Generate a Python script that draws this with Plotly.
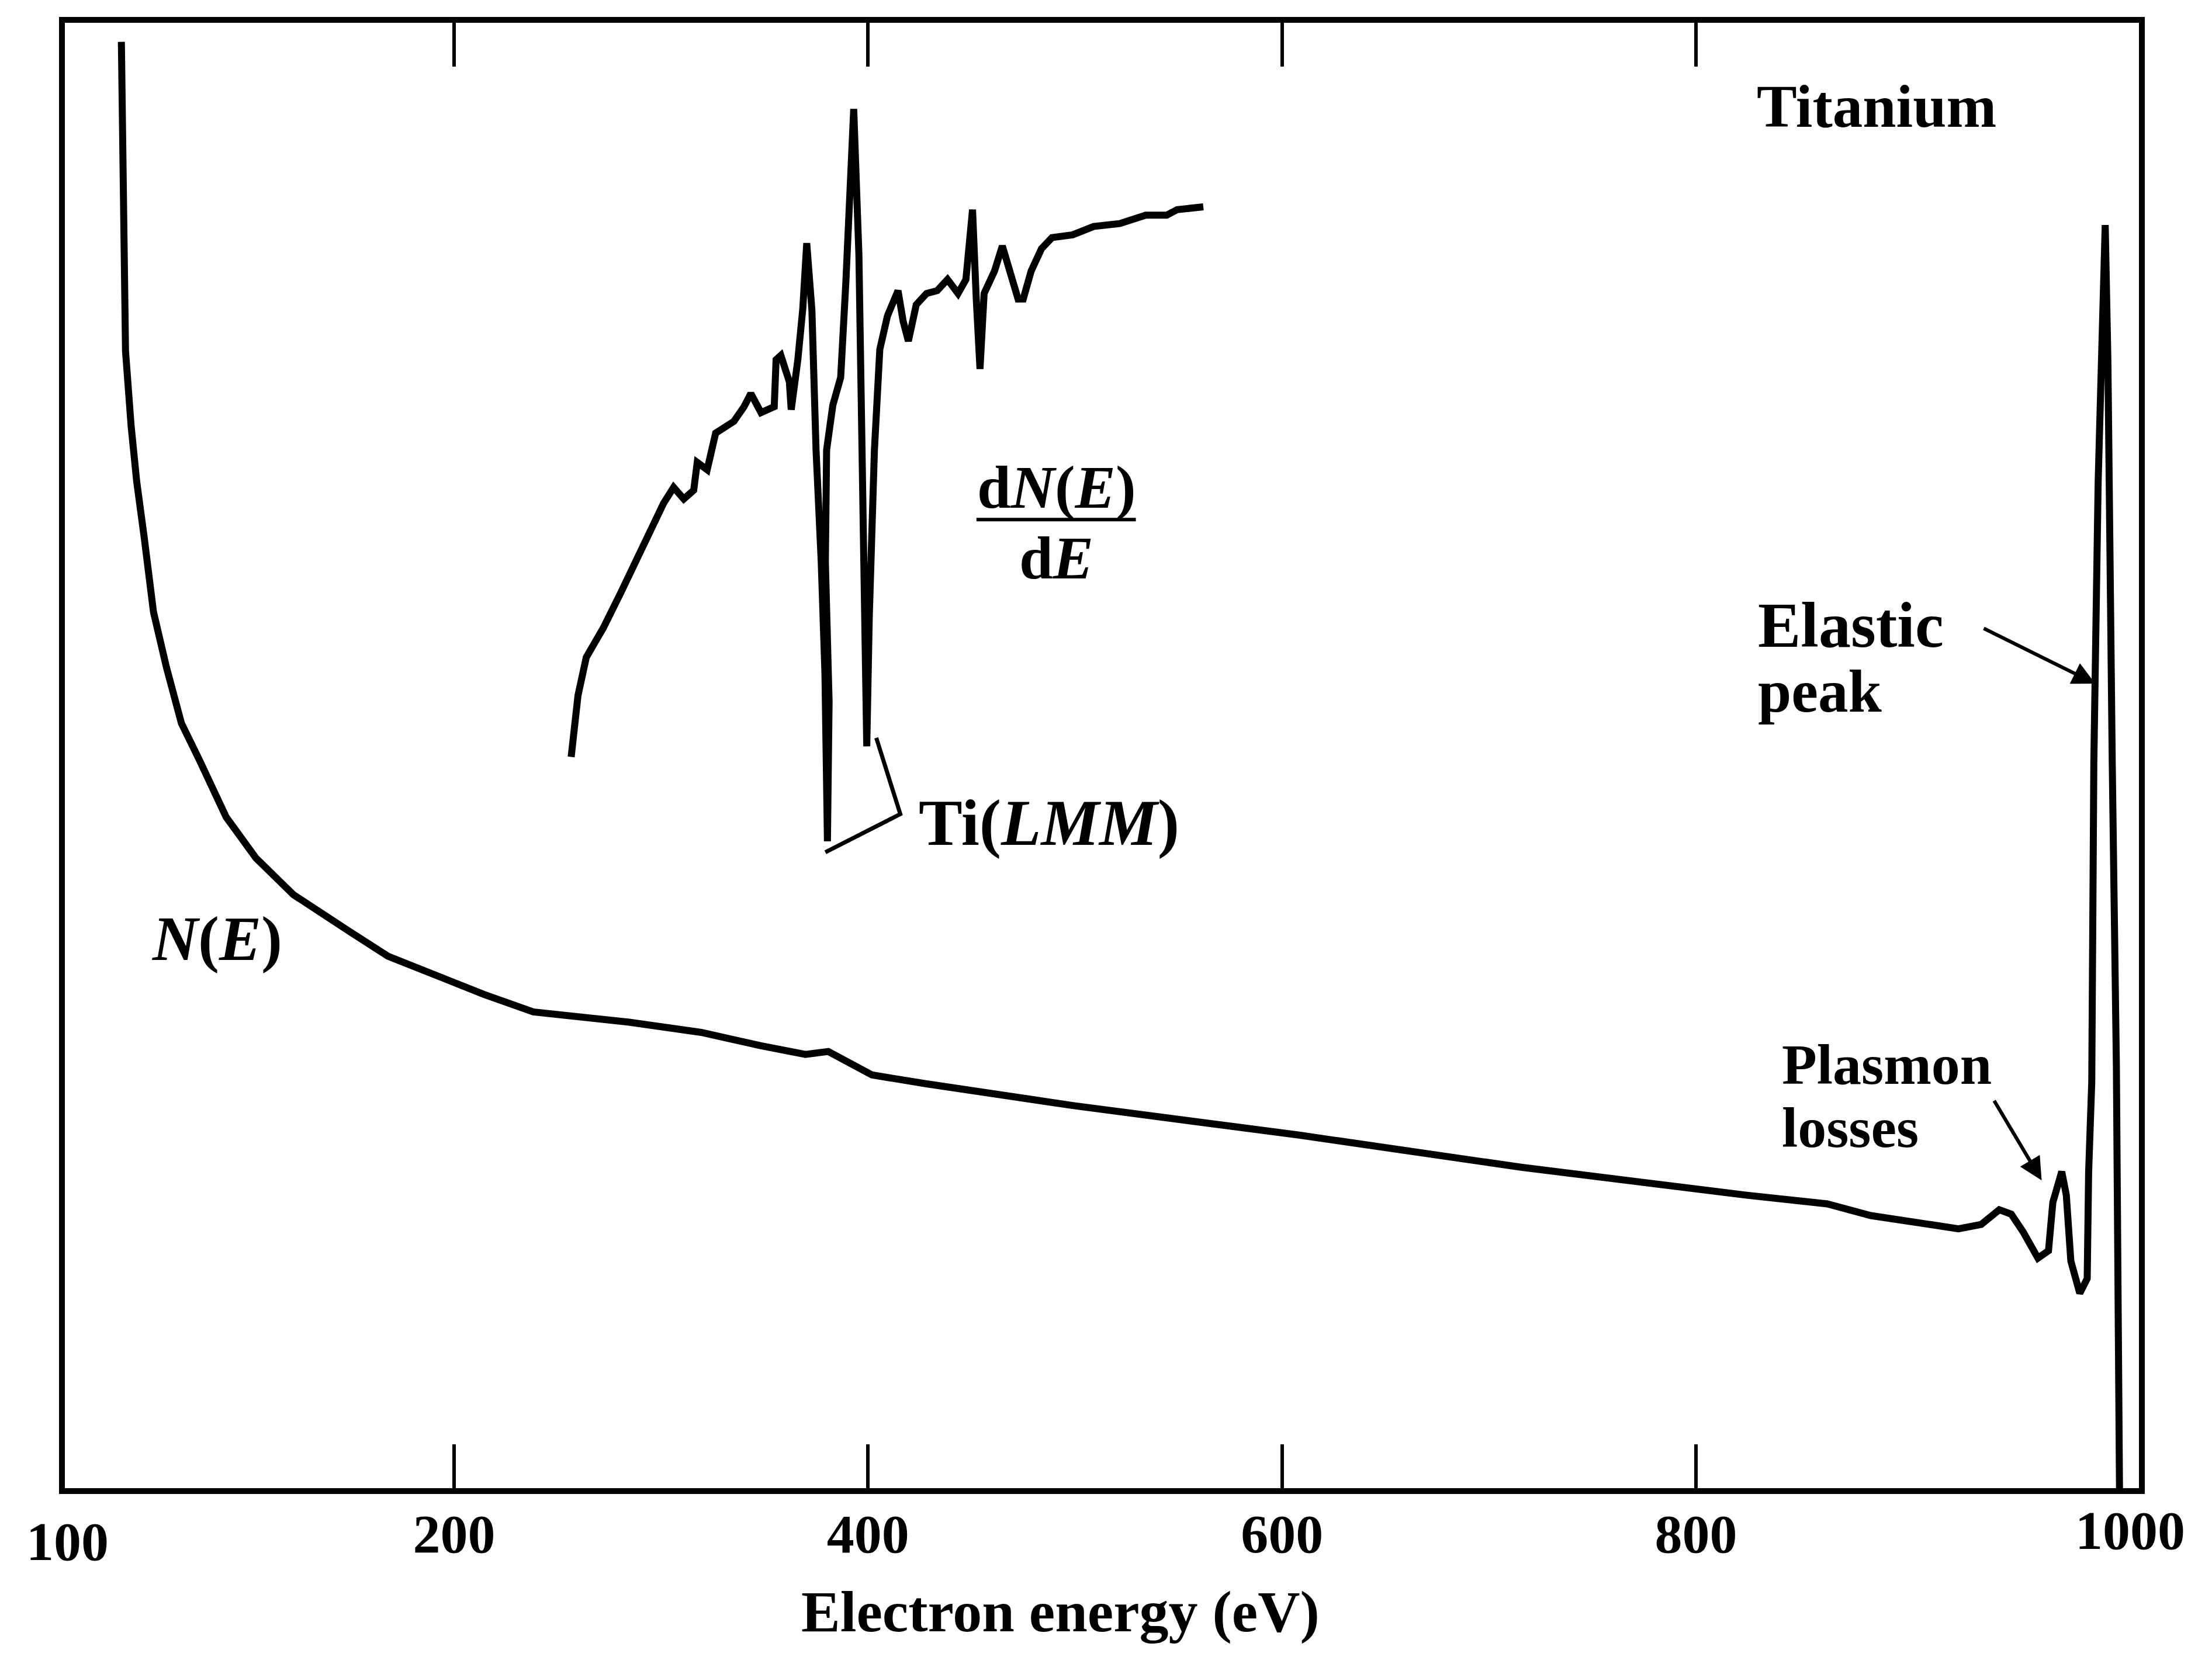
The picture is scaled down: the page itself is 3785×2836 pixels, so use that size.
import plotly.graph_objects as go

# N(E) curve: electron energy (eV) and intensity (arb. units)
ne_energy = [39.3, 40.3, 41.3, 44.0, 46.7, 50.3, 54.8, 61.1, 68.3, 77.3, 89.9, 104.3, 122.4,
             149.4, 168.1, 214.4, 238.3, 284.6, 319.4, 348.0, 369.8, 380.8, 401.9, 427.8,
             499.4, 607.8, 715.5, 823.9, 863.4, 884.5, 926.8, 937.8, 946.5, 952.3, 958.0,
             965.2, 970.3, 972.4, 976.7, 978.9, 981.1, 985.4, 989.0, 989.7, 991.2, 992.2,
             994.3, 997.7, 999.0, 1001.1, 1003.1, 1004.6]
ne_intensity = [98.7, 88.8, 77.6, 72.5, 68.7, 64.9, 59.8, 56.0, 52.2, 49.6, 45.8, 43.0, 40.5,
                38.0, 36.3, 33.7, 32.5, 31.8, 31.1, 30.2, 29.6, 29.8, 28.2, 27.6,
                26.1, 24.1, 21.9, 20.0, 19.4, 18.6, 17.7, 18.0, 19.0, 18.7, 17.5,
                15.7, 16.2, 19.5, 21.6, 20.0, 15.5, 13.3, 14.3, 21.6, 27.7, 49.5,
                68.7, 86.2, 76.9, 49.5, 28.8, 0.0]

# dN(E)/dE curve
dn_energy = [256.6, 259.9, 263.9, 272.1, 280.2, 288.3, 296.4, 301.2, 306.1, 311.0, 315.8, 317.5,
             322.3, 326.4, 335.2, 340.1, 343.4, 348.3, 354.7, 355.6, 357.9, 362.0, 362.9, 366.1,
             368.5, 370.4, 372.9, 374.9, 377.4, 379.2, 380.4, 381.2, 379.4, 380.0, 383.0, 386.8,
             389.3, 393.1, 395.6, 397.3, 398.9, 399.4, 400.6, 403.1, 405.7, 409.4, 414.5, 417.0,
             419.5, 423.3, 428.3, 433.4, 438.4, 443.5, 447.3, 450.5, 452.3, 454.1, 456.1, 461.1,
             464.9, 468.7, 472.5, 475.0, 478.8, 483.8, 488.9, 498.9, 509.0, 521.6, 534.2, 544.3,
             549.4, 562.0]
dn_intensity = [49.9, 54.1, 56.7, 58.7, 61.0, 63.5, 66.0, 67.2, 68.3, 67.5, 68.1, 70.0,
                69.5, 72.0, 72.8, 73.8, 74.7, 73.4, 73.8, 77.0, 77.3, 75.5, 73.6, 77.0,
                80.5, 84.96, 80.38, 70.85, 63.22, 55.59, 44.14, 53.68, 63.22, 70.85, 73.90, 75.80,
                82.29, 94.12, 84.20, 70.85, 59.40, 50.62, 59.40, 70.85, 77.71, 80.00, 81.72, 79.62,
                78.28, 80.76, 81.53, 81.72, 82.48, 81.53, 82.48, 87.25, 81.15, 76.38, 81.53, 83.05,
                84.77, 83.05, 81.15, 81.15, 83.05, 84.58, 85.34, 85.53, 86.10, 86.30, 86.87, 86.87,
                87.25, 87.44]

tick_values = [200, 400, 600, 800]
tick_labels = ["200", "400", "600", "800"]

FONT = "Liberation Serif"
LW = 12


def txt(s):
    return "<b>" + s + "</b>"


fig = go.Figure()
fig.add_trace(go.Scatter(x=ne_energy, y=ne_intensity, mode="lines",
                         line=dict(color="black", width=LW), showlegend=False))
fig.add_trace(go.Scatter(x=dn_energy, y=dn_intensity, mode="lines",
                         line=dict(color="black", width=LW), showlegend=False))

# Ti(LMM) bracket
fig.add_shape(type="path", path="M 404.0 51.2 L 415.6 46.0 L 379.4 43.4",
              line=dict(color="black", width=7), xref="x", yref="y")
# fraction bar for dN(E)/dE
fig.add_shape(type="line", x0=452.4, x1=529.4, y0=66.1, y1=66.1,
              line=dict(color="black", width=6), xref="x", yref="y")

ann = [
    dict(x=491.0, y=68.3, text="d<i>N</i>(<i>E</i>)", xanchor="center", size=104),
    dict(x=491.0, y=63.5, text="d<i>E</i>", xanchor="center", size=104),
    dict(x=424.0, y=45.4, text="Ti(<i>LMM</i>)", xanchor="left", size=112),
    dict(x=85.5, y=37.5, text="<i>N</i>(<i>E</i>)", xanchor="center", size=108),
    dict(x=887.3, y=94.3, text="Titanium", xanchor="center", size=103),
    dict(x=829.3, y=58.9, text="Elastic", xanchor="left", size=110),
    dict(x=829.3, y=54.4, text="peak", xanchor="left", size=103),
    dict(x=840.9, y=28.9, text="Plasmon", xanchor="left", size=98),
    dict(x=840.9, y=24.6, text="losses", xanchor="left", size=98),
]
for a in ann:
    fig.add_annotation(x=a["x"], y=a["y"], text=txt(a["text"]), xanchor=a["xanchor"],
                       yanchor="middle", xref="x", yref="y", showarrow=False,
                       font=dict(family=FONT, size=a["size"], color="black"))

# arrows
fig.add_annotation(x=992.9, y=54.9, ax=938.6, ay=58.7, xref="x", yref="y", axref="x", ayref="y",
                   text="", showarrow=True, arrowhead=2, arrowsize=1.3, arrowwidth=6, arrowcolor="black")
fig.add_annotation(x=967.0, y=21.0, ax=943.8, ay=26.5, xref="x", yref="y", axref="x", ayref="y",
                   text="", showarrow=True, arrowhead=2, arrowsize=1.3, arrowwidth=6, arrowcolor="black")

# edge tick labels and axis title
fig.add_annotation(x=0.0014, y=-0.0363, xref="paper", yref="paper", text=txt("100"), showarrow=False,
                   xanchor="center", yanchor="middle", font=dict(family=FONT, size=94, color="black"))
fig.add_annotation(x=0.9958, y=-0.0287, xref="paper", yref="paper", text=txt("1000"), showarrow=False,
                   xanchor="center", yanchor="middle", font=dict(family=FONT, size=94, color="black"))
fig.add_annotation(x=0.480, y=-0.0845, xref="paper", yref="paper", text=txt("Electron energy (eV)"),
                   showarrow=False, xanchor="center", yanchor="middle",
                   font=dict(family=FONT, size=100, color="black"))

fig.update_layout(
    width=3785, height=2836,
    margin=dict(l=111, r=125, t=39, b=289),
    paper_bgcolor="white", plot_bgcolor="white",
    xaxis=dict(range=[12, 1014], showgrid=False, zeroline=False,
               showline=True, linecolor="black", linewidth=10, mirror="ticks",
               ticks="inside", ticklen=75, tickwidth=6, tickcolor="black",
               tickvals=tick_values, ticktext=[txt(t) for t in tick_labels],
               ticklabelstandoff=-13,
               tickfont=dict(family=FONT, size=94, color="black")),
    yaxis=dict(range=[0, 100], showgrid=False, zeroline=False,
               showline=True, linecolor="black", linewidth=10, mirror=True,
               ticks="", showticklabels=False),
)

fig.write_html("out.html")
